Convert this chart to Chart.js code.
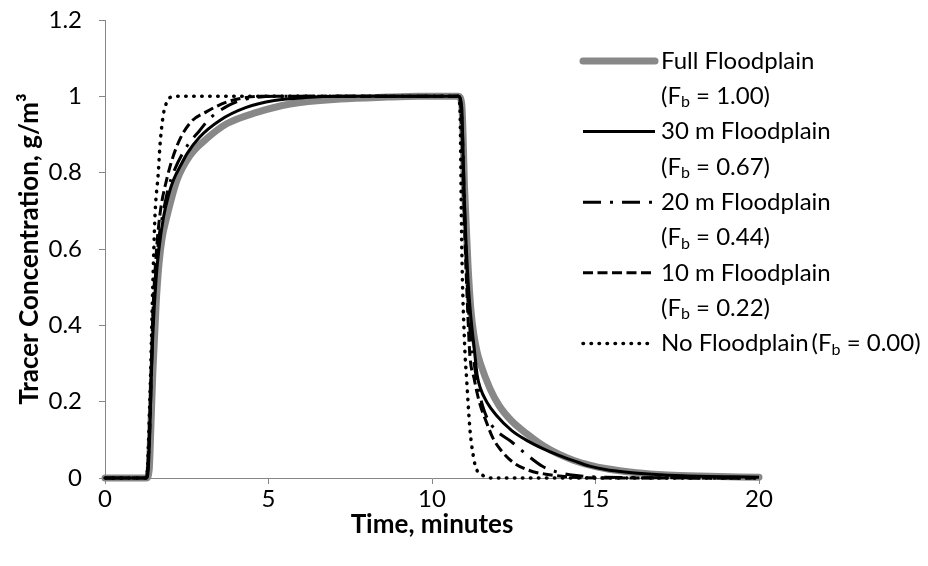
<!DOCTYPE html>
<html>
  <script src="https://cdn.jsdelivr.net/npm/chart.js"></script>
  <body style="margin:0; background:#fff">
    <div style="width:928px; height:566px"><canvas id="myChart"></canvas></div>

    <script>
      // values: time in minutes, concentration in g/m3
      var timeFull = [0, 1.27, 1.35, 1.41, 1.46, 1.56, 1.65, 1.75, 1.89, 2.2, 2.6, 3.11, 3.72, 4.64, 5.66, 7.19, 8.62, 9.57, 10.81, 10.91, 11.0, 11.1, 11.19, 11.29, 11.38, 11.48, 11.77, 12.05, 12.43, 12.91, 13.39, 13.86, 14.34, 14.82, 15.3, 16.25, 17.2, 18.16, 20];
      var concFull = [0, 0, 0.02, 0.15, 0.27, 0.45, 0.56, 0.63, 0.684, 0.78, 0.845, 0.889, 0.928, 0.958, 0.98, 0.993, 0.998, 1, 1, 0.98, 0.75, 0.56, 0.44, 0.37, 0.33, 0.3, 0.235, 0.19, 0.15, 0.115, 0.085, 0.063, 0.046, 0.034, 0.025, 0.014, 0.008, 0.005, 0.002];

      var time30 = [0, 1.27, 1.32, 1.37, 1.41, 1.46, 1.56, 1.65, 1.79, 1.94, 2.09, 2.32, 2.51, 2.89, 3.51, 4.32, 5.18, 6.14, 7.19, 10.81, 10.91, 10.95, 11.0, 11.1, 11.19, 11.29, 11.38, 11.48, 11.67, 11.96, 12.43, 12.91, 13.39, 13.86, 14.34, 14.82, 15.3, 15.96, 16.73, 17.68, 20];
      var conc30 = [0, 0, 0.02, 0.12, 0.25, 0.37, 0.52, 0.6, 0.684, 0.74, 0.78, 0.82, 0.85, 0.893, 0.937, 0.971, 0.989, 0.997, 1, 1, 0.97, 0.85, 0.7, 0.52, 0.42, 0.34, 0.27, 0.235, 0.2, 0.165, 0.125, 0.098, 0.077, 0.06, 0.045, 0.031, 0.022, 0.015, 0.01, 0.006, 0.002];

      var time20 = [0, 1.27, 1.37, 1.46, 1.56, 1.65, 1.79, 1.94, 2.09, 2.51, 2.89, 3.18, 3.75, 4.32, 5.28, 10.81, 10.91, 11.0, 11.1, 11.19, 11.29, 11.38, 11.48, 11.67, 11.96, 12.43, 12.91, 13.39, 13.86, 14.34, 15.3, 20];
      var conc20 = [0, 0, 0.13, 0.4, 0.55, 0.63, 0.7, 0.76, 0.8, 0.87, 0.91, 0.94, 0.975, 0.993, 1, 1, 0.95, 0.7, 0.47, 0.36, 0.3, 0.25, 0.21, 0.16, 0.125, 0.095, 0.06, 0.03, 0.015, 0.007, 0.002, 0];

      var time10 = [0, 1.27, 1.37, 1.46, 1.56, 1.68, 1.88, 2.2, 2.6, 3.11, 3.72, 4.32, 4.8, 10.81, 10.91, 11.0, 11.1, 11.16, 11.29, 11.36, 11.48, 11.67, 11.86, 12.08, 12.48, 13.0, 13.48, 14.34, 15.3, 20];
      var conc10 = [0, 0, 0.15, 0.42, 0.58, 0.69, 0.78, 0.87, 0.93, 0.96, 0.985, 0.997, 1, 1, 0.93, 0.65, 0.42, 0.32, 0.26, 0.23, 0.19, 0.145, 0.105, 0.076, 0.041, 0.019, 0.01, 0.002, 0, 0];

      var time0 = [0, 1.27, 1.37, 1.46, 1.53, 1.63, 1.68, 1.78, 1.89, 1.99, 2.22, 10.81, 10.86, 10.91, 11.0, 11.06, 11.16, 11.29, 11.36, 11.57, 11.86, 20];
      var conc0 = [0, 0, 0.2, 0.5, 0.69, 0.8, 0.87, 0.95, 0.985, 0.997, 1, 1, 0.95, 0.606, 0.345, 0.258, 0.128, 0.045, 0.023, 0.006, 0, 0];

      var legendNames = ['Full Floodplain', '30 m Floodplain', '20 m Floodplain', '10 m Floodplain', 'No Floodplain'];
      var legendFb = ['1.00', '0.67', '0.44', '0.22', '0.00'];
      var yTickLabels = ['0', '0.2', '0.4', '0.6', '0.8', '1', '1.2'];

      function pts(t, c) {
        return t.map(function (x, i) { return { x: x, y: c[i] }; });
      }

      var FONT = 'Lato, "Open Sans", sans-serif';
      var AXIS = '#868686';
      var SIZE = 24;

      var styles = [
        { color: '#888888', width: 7, dash: [], cap: 'round' },
        { color: '#000', width: 3, dash: [], cap: 'butt' },
        { color: '#000', width: 3, dash: [18, 9, 3, 9], cap: 'butt' },
        { color: '#000', width: 3, dash: [10, 4.5], cap: 'butt' },
        { color: '#000', width: 3.5, dash: [0.5, 7.5], cap: 'round' }
      ];

      var series = [pts(timeFull, concFull), pts(time30, conc30), pts(time20, conc20), pts(time10, conc10), pts(time0, conc0)];

      var sideLegend = {
        id: 'sideLegend',
        afterDraw: function (chart) {
          var c = chart.ctx;
          var x0 = 583, x1 = 655, tx = 661, top = 61, step = 35.3;
          c.save();
          c.textBaseline = 'middle';
          c.fillStyle = '#000';
          function fb(x, y, val) {
            c.font = SIZE + 'px ' + FONT;
            c.fillText('(F', x, y);
            x += c.measureText('(F').width;
            c.font = '16px ' + FONT;
            c.fillText('b', x, y + 6);
            x += c.measureText('b').width;
            c.font = SIZE + 'px ' + FONT;
            c.fillText(' = ' + val + ')', x, y);
          }
          for (var i = 0; i < legendNames.length; i++) {
            var s = styles[i];
            var y = top + step * 2 * i;
            c.beginPath();
            c.strokeStyle = s.color;
            c.lineWidth = s.width;
            c.lineCap = s.cap;
            c.setLineDash(s.dash);
            c.moveTo(x0, y);
            c.lineTo(x1, y);
            c.stroke();
            c.setLineDash([]);
            c.font = SIZE + 'px ' + FONT;
            c.fillText(legendNames[i], tx, y);
            if (i < legendNames.length - 1) {
              fb(tx, y + step, legendFb[i]);
            } else {
              fb(tx + c.measureText(legendNames[i]).width + 3, y, legendFb[i]);
            }
          }
          c.restore();
        }
      };

      const ctx = document.getElementById('myChart');

      new Chart(ctx, {
        type: 'scatter',
        data: {
          datasets: series.map(function (d, i) {
            return {
              label: legendNames[i],
              data: d,
              showLine: true,
              pointRadius: 0,
              borderColor: styles[i].color,
              borderWidth: styles[i].width,
              borderDash: styles[i].dash,
              borderCapStyle: styles[i].cap,
              cubicInterpolationMode: 'monotone',
              clip: false,
              order: i === 0 ? 10 : 5 - i
            };
          })
        },
        options: {
          responsive: true,
          maintainAspectRatio: false,
          animation: false,
          layout: { padding: { left: 14, right: 169, top: 20, bottom: 26 } },
          plugins: {
            legend: { display: false },
            tooltip: { enabled: false }
          },
          scales: {
            x: {
              type: 'linear',
              min: 0,
              max: 20,
              ticks: { stepSize: 5, color: '#000', padding: 1, font: { family: FONT, size: SIZE } },
              grid: { drawOnChartArea: false, tickLength: 6, color: AXIS },
              border: { color: AXIS },
              title: {
                display: true,
                text: 'Time, minutes',
                color: '#000',
                padding: 0,
                font: { family: FONT, size: 26, weight: 'bold' }
              },
              afterFit: function (scale) {
                scale.height = 566 - 26 - 478;
                scale.paddingLeft = 0;
                scale.paddingRight = 0;
              }
            },
            y: {
              min: 0,
              max: 1.2,
              ticks: {
                stepSize: 0.2,
                color: '#000',
                padding: 17,
                font: { family: FONT, size: SIZE },
                callback: function (v, i) { return yTickLabels[i]; }
              },
              grid: { drawOnChartArea: false, tickLength: 6, color: AXIS },
              border: { color: AXIS },
              title: {
                display: true,
                text: 'Tracer Concentration, g/m\u00b3',
                color: '#000',
                padding: 0,
                font: { family: FONT, size: 26, weight: 'bold' }
              },
              afterFit: function (scale) {
                scale.width = 105 - 14;
                scale.paddingTop = 0;
                scale.paddingBottom = 0;
              }
            }
          }
        },
        plugins: [sideLegend]
      });
    </script>
  </body>
</html>
